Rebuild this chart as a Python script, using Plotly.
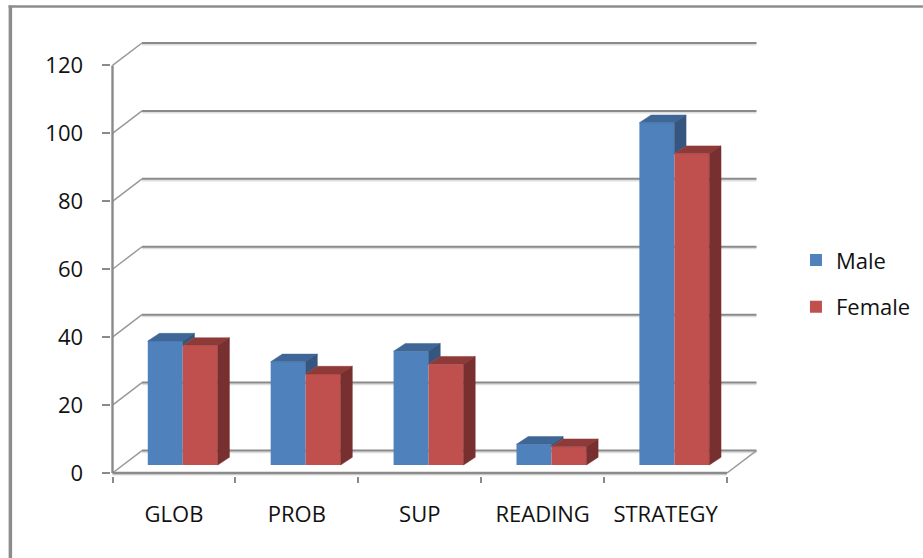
import numpy as np
import plotly.graph_objects as go

categories = ["GLOB", "PROB", "SUP", "READING", "STRATEGY"]
male = [36.5, 30.4, 33.5, 6.1, 100.8]
female = [35.2, 26.8, 29.7, 5.4, 91.7]
y_ticks = [0, 20, 40, 60, 80, 100, 120]

W, H = 923, 558
FRONT_L, BACK_R, BACK_T, FRONT_B = 112, 757, 42.5, 473
L, R, T, B = FRONT_L - 1.5, BACK_R + 1, BACK_T - 2, FRONT_B + 3
PX_X = 123.0   # px per category
PX_Y = 3.4     # px per value unit
x_rng = [-0.5 - (FRONT_L - L) / PX_X, -0.5 + (R - FRONT_L) / PX_X]
y_rng = [-(B - FRONT_B) / PX_Y, (FRONT_B - T) / PX_Y]

BAR_W = 35.0 / PX_X
M_OFF = -0.213
F_OFF = M_OFF + BAR_W
BASE = 8 / PX_Y
DX = 11.7 / PX_X
DY = 7.7 / PX_Y
WALL_X = 29.5 / PX_X
WALL_Y = 22.5 / PX_Y

GRID = "#8a8a8a"
SHADOW = "#dedede"
BLUE, RED = "#4f81bd", "#c0504d"
BLUE_TOP, RED_TOP = "#3e6797", "#8e3a38"
BLUE_SIDE, RED_SIDE = "#34567f", "#77302f"
pos = np.arange(len(categories), dtype=float)

fig = go.Figure()


def line(xs, ys, color=GRID, width=2, z=0):
    fig.add_trace(go.Scatter(x=xs, y=ys, mode="lines", line=dict(color=color, width=width),
                             showlegend=False, hoverinfo="skip", cliponaxis=False, zorder=z))


def poly(xs, ys, color, z):
    fig.add_trace(go.Scatter(x=xs, y=ys, mode="lines", fill="toself", fillcolor=color,
                             line=dict(color=color, width=0.5), showlegend=False,
                             hoverinfo="skip", cliponaxis=False, zorder=z))


# back wall grid with its soft shadow, then the diagonals and axis lines
x0, x1 = pos[0] - 0.5, pos[-1] + 0.5
gx, gy, sx, sy, dx_, dy_ = [], [], [], [], [], []
for v in y_ticks:
    gx += [x0 + WALL_X, x1 + WALL_X, None]
    gy += [v + WALL_Y, v + WALL_Y, None]
    sx += [x0 + WALL_X, x1 + WALL_X, None]
    sy += [v + WALL_Y - 1.6 / PX_Y, v + WALL_Y - 1.6 / PX_Y, None]
    dx_ += [x0, x0 + WALL_X, None]
    dy_ += [v, v + WALL_Y, None]
line(sx, sy, SHADOW, 2)
line(gx, gy, GRID, 2)
line(dx_, dy_, "#999999", 1.5)
line([x1, x1 + WALL_X], [0, WALL_Y], "#999999", 1.5)
line([x0, x1], [-1.6 / PX_Y, -1.6 / PX_Y], SHADOW, 2)
line([x0, x1], [0, 0], GRID, 2.4)
line([x0, x0], [0, y_ticks[-1]], GRID, 2.4)

fig.add_trace(go.Bar(x=pos, y=male, base=BASE, name="Male", width=BAR_W, offset=M_OFF,
                     marker=dict(color=BLUE, line=dict(width=0)), legendgroup="m", zorder=1))
fig.add_trace(go.Bar(x=pos, y=female, base=BASE, name="Female", width=BAR_W, offset=F_OFF,
                     marker=dict(color=RED, line=dict(width=0)), legendgroup="f", zorder=1))

for p, m, f in zip(pos, male, female):
    ml, mr = p + M_OFF, p + M_OFF + BAR_W
    fl, fr = p + F_OFF, p + F_OFF + BAR_W
    mt, ft = m + BASE, f + BASE
    poly([ml, ml + DX, mr + DX, mr, ml], [mt, mt + DY, mt + DY, mt, mt], BLUE_TOP, 2)
    poly([mr, mr + DX, mr + DX, mr, mr], [mt, mt + DY, ft + DY, ft, mt], BLUE_SIDE, 2)
    poly([fl, fl + DX, fr + DX, fr, fl], [ft, ft + DY, ft + DY, ft, ft], RED_TOP, 3)
    poly([fr, fr + DX, fr + DX, fr, fr], [ft, ft + DY, BASE + DY, BASE, ft], RED_SIDE, 3)

FONT = "Open Sans"
fig.update_layout(
    width=W, height=H, autosize=False,
    paper_bgcolor="white", plot_bgcolor="white",
    barmode="overlay",
    margin=dict(l=L, r=W - R, t=T, b=H - B, autoexpand=False),
    font=dict(family=FONT, size=22, color="#111111"),
    showlegend=True,
    legend=dict(x=(796 - L) / (R - L), y=(B - 239) / (B - T), xref="paper", yref="paper",
                yanchor="top", xanchor="left",
                traceorder="grouped", tracegroupgap=15, bgcolor="rgba(0,0,0,0)",
                font=dict(family=FONT, size=22, color="#111111")),
    xaxis=dict(range=x_rng, showgrid=False, zeroline=False,
               showline=False, tickmode="array", tickvals=pos, ticktext=categories,
               ticks="", ticklabelstandoff=23,
               minor=dict(tickmode="array", tickvals=(pos - 0.5).tolist() + [x1], ticks="outside",
                          ticklen=6, tickwidth=2.4, tickcolor=GRID, showgrid=False)),
    yaxis=dict(range=y_rng, showgrid=False, zeroline=False, showline=False, tickmode="array",
               tickvals=y_ticks, ticks="outside", ticklen=8.5, tickwidth=2.4, tickcolor=GRID,
               ticklabelstandoff=14),
    shapes=[
        dict(type="line", xref="paper", yref="paper",
             x0=(9.8 - L) / (R - L), x1=(9.8 - L) / (R - L), y0=(B - H) / (B - T), y1=(B - 5) / (B - T),
             line=dict(color="#8c8c8c", width=3.5)),
        dict(type="line", xref="paper", yref="paper",
             x0=(8 - L) / (R - L), x1=(923 - L) / (R - L), y0=(B - 6) / (B - T), y1=(B - 6) / (B - T),
             line=dict(color="#8c8c8c", width=2.5)),
    ],
)
fig.write_html("out.html", config={"displayModeBar": False},
               post_script="document.body.style.margin='0';window.dispatchEvent(new Event('resize'));")
